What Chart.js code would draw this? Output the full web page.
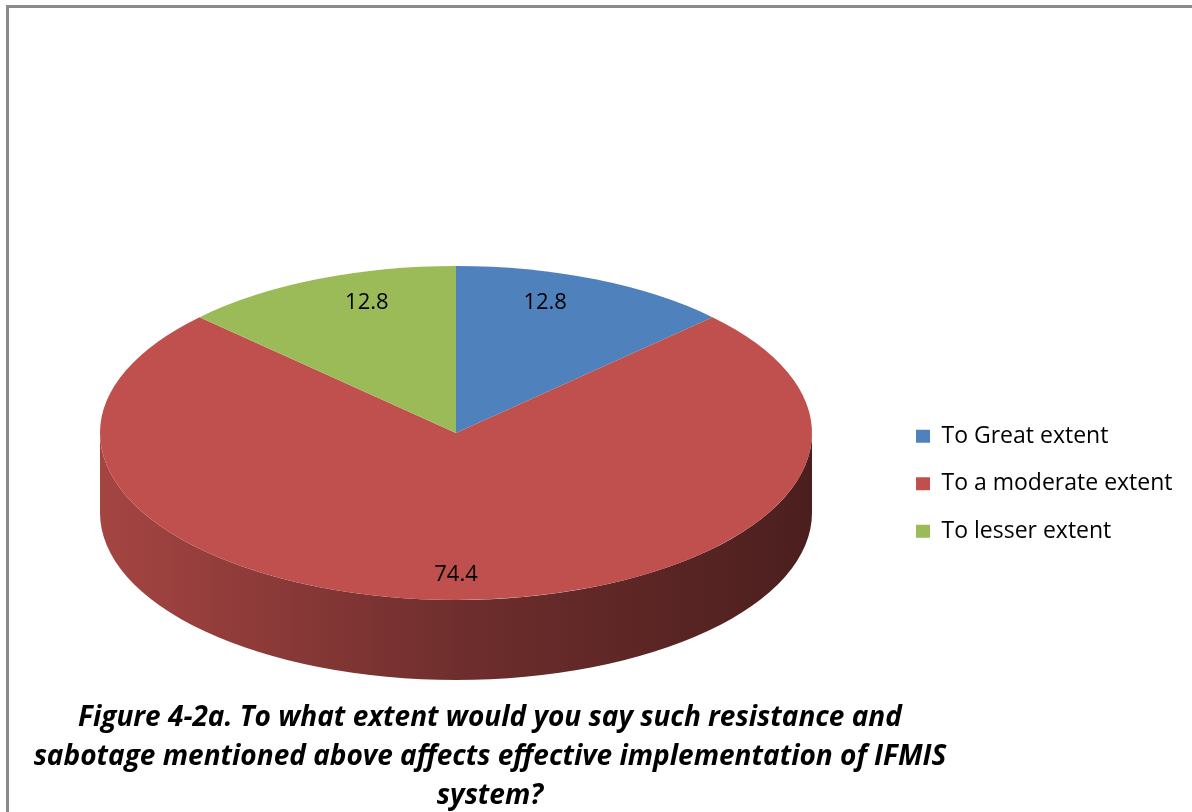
<!DOCTYPE html>
<html>
<head>
<meta charset="utf-8">
<script src="https://cdn.jsdelivr.net/npm/chart.js@4.4.1/dist/chart.umd.min.js"></script>
<style>
  html, body { margin: 0; padding: 0; background: #fff; }
  #wrap { position: relative; width: 1192px; height: 812px; overflow: hidden; }
  #frame { position: absolute; left: 6px; top: 5px; right: -10px; bottom: -10px;
           border-top: 3px solid #8a8a8a; border-left: 3px solid #8a8a8a; }
  #chart { position: absolute; left: 0; top: 0; }
  #caption { position: absolute; left: 0; width: 980px; top: 696px; text-align: center;
             font: italic bold 28px "Open Sans", sans-serif; line-height: 39px; color: #000; }
</style>
</head>
<body>
<div id="wrap">
  <div id="frame"></div>
  <canvas id="chart" width="1192" height="812"></canvas>
  <div id="caption">Figure 4-2a. To what extent would you say such resistance and<br>sabotage mentioned above affects effective implementation of IFMIS<br>system?</div>
</div>
<script>
// data
const categories = ['To Great extent', 'To a moderate extent', 'To lesser extent'];
const values     = [12.8, 74.4, 12.8];
const colors     = ['#4f81bd', '#c0504d', '#9bbb59'];

// 3D look
const TILT  = 0.469;   // vertical squash of the top face
const DEPTH = 80;      // thickness of the pie in px

// darken a hex colour by factor f
function shade(hex, f) {
  const r = parseInt(hex.slice(1, 3), 16), g = parseInt(hex.slice(3, 5), 16), b = parseInt(hex.slice(5, 7), 16);
  return `rgb(${Math.round(r * f)},${Math.round(g * f)},${Math.round(b * f)})`;
}

const TWO_PI = Math.PI * 2;
const norm = a => ((a % TWO_PI) + TWO_PI) % TWO_PI;

// draws side walls, squashes the top face, and writes the value labels
const pie3d = {
  id: 'pie3d',
  beforeDatasetsDraw(chart) {
    const ctx = chart.ctx;
    const arcs = chart.getDatasetMeta(0).data;
    if (!arcs.length) return;
    const { x: cx, y: cy, outerRadius: r } = arcs[0];
    const ry = r * TILT;

    // only the front half (canvas angles 0..PI) shows a wall
    arcs.forEach((arc, i) => {
      const s0 = norm(arc.startAngle);
      const e0 = s0 + (arc.endAngle - arc.startAngle);
      [[0, Math.PI], [TWO_PI, TWO_PI + Math.PI]].forEach(([lo, hi]) => {
        const a = Math.max(s0, lo), b = Math.min(e0, hi);
        if (b <= a) return;
        const grad = ctx.createLinearGradient(cx - r, 0, cx + r, 0);
        grad.addColorStop(0,   shade(colors[i], 0.86));
        grad.addColorStop(0.5, shade(colors[i], 0.58));
        grad.addColorStop(1,   shade(colors[i], 0.39));
        ctx.save();
        ctx.fillStyle = grad;
        ctx.beginPath();
        ctx.ellipse(cx, cy, r, ry, 0, a, b);
        ctx.ellipse(cx, cy + DEPTH, r, ry, 0, b, a, true);
        ctx.closePath();
        ctx.fill();
        ctx.restore();
      });
    });

    ctx.save();
    ctx.translate(cx, cy);
    ctx.scale(1, TILT);
    ctx.translate(-cx, -cy);
  },
  afterDatasetsDraw(chart) {
    const ctx = chart.ctx;
    ctx.restore();
    const arcs = chart.getDatasetMeta(0).data;
    ctx.save();
    ctx.fillStyle = '#000';
    ctx.font = '22px "Open Sans", sans-serif';
    ctx.textAlign = 'center';
    ctx.textBaseline = 'middle';
    arcs.forEach((arc, i) => {
      const mid = (arc.startAngle + arc.endAngle) / 2;
      const x = arc.x + 0.64 * arc.outerRadius * Math.cos(mid);
      const y = arc.y + 0.85 * arc.outerRadius * TILT * Math.sin(mid);
      ctx.fillText(values[i].toFixed(1), x, y);
    });
    ctx.restore();
  }
};

new Chart(document.getElementById('chart'), {
  type: 'pie',
  data: {
    labels: categories,
    datasets: [{ data: values, backgroundColor: colors, borderWidth: 0, radius: 356 }]
  },
  options: {
    responsive: false,
    animation: false,
    layout: { padding: { left: 20.5, right: 9.5, top: 54, bottom: 0 } },
    plugins: {
      tooltip: { enabled: false },
      legend: {
        position: 'right',
        title: { display: true, text: ' ', padding: { top: 0, bottom: 87 } },
        labels: {
          boxWidth: 14, boxHeight: 13, padding: 24.5, color: '#000',
          font: { family: 'Open Sans', size: 23 }
        }
      }
    }
  },
  plugins: [pie3d]
});
</script>
</body>
</html>
